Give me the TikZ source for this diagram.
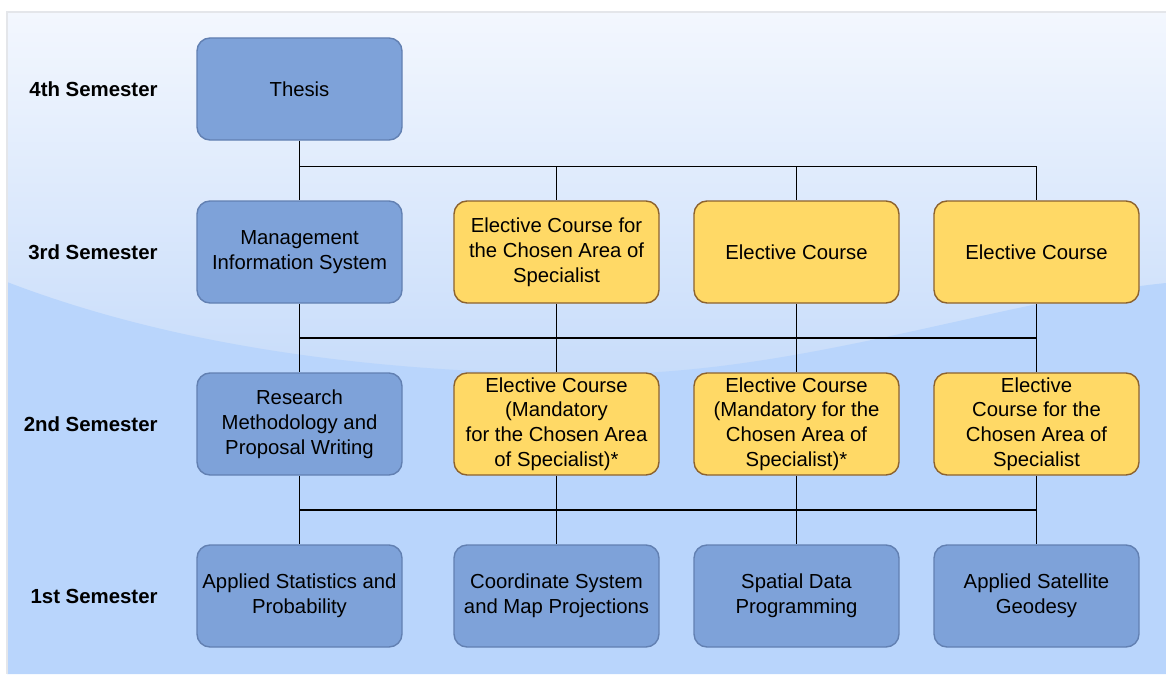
\documentclass[tikz,border=0pt]{standalone}
\usepackage{fontspec}
\setmainfont{Liberation Sans}
\definecolor{panelTop}{RGB}{243,247,254}
\definecolor{panelMid}{RGB}{199,220,250}
\definecolor{panelLow}{RGB}{185,213,252}
\definecolor{panelEdge}{RGB}{228,230,234}
\definecolor{coreFill}{RGB}{126,162,217}
\definecolor{coreLine}{RGB}{98,128,178}
\definecolor{elecFill}{RGB}{255,217,102}
\definecolor{elecLine}{RGB}{140,98,46}

\begin{document}
\begin{tikzpicture}[x=0.5pt,y=-0.5pt]
\tikzstyle{every node}+=[inner sep=0pt, align=center, font=\fontsize{10.15pt}{12.4pt}\selectfont]
\tikzstyle{core}=[draw=coreLine, fill=coreFill, line width=0.7pt, rounded corners=6.5pt, minimum width=102.5pt, minimum height=51pt]
\tikzstyle{elective}=[core, draw=elecLine, fill=elecFill]
\tikzstyle{semester}=[anchor=east, font=\fontsize{10.2pt}{12pt}\selectfont\bfseries]
\tikzstyle{link}=[black, line width=0.75pt]

\useasboundingbox (0,0) rectangle (1166,674);
% panel background
\shade[top color=panelTop, bottom color=panelMid] (7,12) rectangle (1166,380);
\fill[panelLow] (7,282) .. controls (190,352) and (400,374) .. (600,374)
  .. controls (800,374) and (1000,300) .. (1166,283) -- (1166,674) -- (7,674) -- cycle;
\draw[panelEdge, line width=0.6pt] (7,674) -- (7,12) -- (1166,12);

\node[semester] (sem4) at (158,89) {4th Semester};
\node[semester] (sem3) at (158,252) {3rd Semester};
\node[semester] (sem2) at (158,424) {2nd Semester};
\node[semester] (sem1) at (158,596) {1st Semester};

\node[core] (thesis) at (299.5,89) {Thesis};

\node[core] (mis) at (299.5,252) {Management\\Information System};
\node[elective] (spec3) at (556.5,252) {Elective Course for\\the Chosen Area of\\Specialist};
\node[elective] (elec3a) at (796.5,252) {Elective Course};
\node[elective] (elec3b) at (1036.5,252) {Elective Course};

\node[core] (research) at (299.5,424) {Research\\Methodology and\\Proposal Writing};
\node[elective] (mand2a) at (556.5,424) {Elective Course\\(Mandatory\\for the Chosen Area\\of Specialist)*};
\node[elective] (mand2b) at (796.5,424) {Elective Course\\(Mandatory for the\\Chosen Area of\\Specialist)*};
\node[elective] (spec2) at (1036.5,424) {Elective\\Course for the\\Chosen Area of\\Specialist};

\node[core] (stats) at (299.5,596) {Applied Statistics and\\Probability};
\node[core] (coord) at (556.5,596) {Coordinate System\\and Map Projections};
\node[core] (spatial) at (796.5,596) {Spatial Data\\Programming};
\node[core] (geodesy) at (1036.5,596) {Applied Satellite\\Geodesy};

% connectors
\path (thesis.south) -- (mis.north) coordinate[pos=0.43] (bus4);
\path (mis.south) -- (research.north) coordinate[midway] (bus3);
\path (research.south) -- (stats.north) coordinate[midway] (bus2);

\draw[link] (thesis) -- (mis);
\foreach \n in {spec3,elec3a,elec3b}
  \draw[link] (bus4) -| (\n.north);

\foreach \a/\b in {mis/research,spec3/mand2a,elec3a/mand2b,elec3b/spec2}
  \draw[link] (\a) -- (\b);
\draw[link] (bus3) -- (bus3 -| elec3b);

\foreach \a/\b in {research/stats,mand2a/coord,mand2b/spatial,spec2/geodesy}
  \draw[link] (\a) -- (\b);
\draw[link] (bus2) -- (bus2 -| spec2);
\end{tikzpicture}
\end{document}
